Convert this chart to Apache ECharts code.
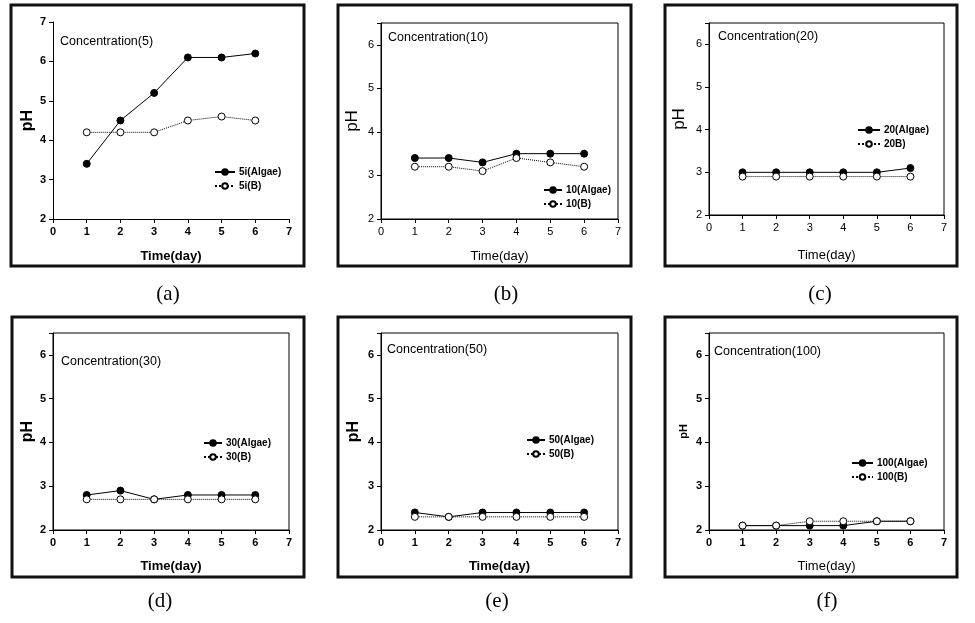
<!DOCTYPE html>
<html>
<head>
<meta charset="utf-8">
<script src="https://cdn.jsdelivr.net/npm/echarts@6/dist/echarts.min.js"></script>
<style>html,body{margin:0;padding:0;background:#fff}#c{width:975px;height:623px}</style>
</head>
<body>
<div id="c"></div>
<script>
// ---- data ----
var days = [1, 2, 3, 4, 5, 6];
var titles = ['Concentration(5)', 'Concentration(10)', 'Concentration(20)', 'Concentration(30)', 'Concentration(50)', 'Concentration(100)'];
var captions = ['(a)', '(b)', '(c)', '(d)', '(e)', '(f)'];
var algaeNames = ['5i(Algae)', '10(Algae)', '20(Algae)', '30(Algae)', '50(Algae)', '100(Algae)'];
var bNames = ['5i(B)', '10(B)', '20B)', '30(B)', '50(B)', '100(B)'];
var algae5 = [3.4, 4.5, 5.2, 6.1, 6.1, 6.2];
var b5 = [4.2, 4.2, 4.2, 4.5, 4.6, 4.5];
var algae10 = [3.4, 3.4, 3.3, 3.5, 3.5, 3.5];
var b10 = [3.2, 3.2, 3.1, 3.4, 3.3, 3.2];
var algae20 = [3.0, 3.0, 3.0, 3.0, 3.0, 3.1];
var b20 = [2.9, 2.9, 2.9, 2.9, 2.9, 2.9];
var algae30 = [2.8, 2.9, 2.7, 2.8, 2.8, 2.8];
var b30 = [2.7, 2.7, 2.7, 2.7, 2.7, 2.7];
var algae50 = [2.4, 2.3, 2.4, 2.4, 2.4, 2.4];
var b50 = [2.3, 2.3, 2.3, 2.3, 2.3, 2.3];
var algae100 = [2.1, 2.1, 2.1, 2.1, 2.2, 2.2];
var b100 = [2.1, 2.1, 2.2, 2.2, 2.2, 2.2];
var xName = 'Time(day)';
var yName = 'pH';
var xMin = 0, xMax = 7, yMin = 2;
var yMaxes = [7, 6.5, 6.5, 6.5, 6.5, 6.5];

var algaeSets = [algae5, algae10, algae20, algae30, algae50, algae100];
var bSets = [b5, b10, b20, b30, b50, b100];

// ---- layout ----
var FONT = '"Liberation Sans", Arial, sans-serif';
var layout = [
  {grid:[53,22,236,197], box:false, frame:[11,5,293,261], tl:[60,35], cap:[168,294], tickB:true, nameB:true, xGap:31, yGap:17, pH:16, pHB:true, leg:[214,166,20]},
  {grid:[381,23,237,196], box:true, frame:[338,5,293,261], tl:[388,31], cap:[506,294], tickB:false, nameB:false, xGap:31, yGap:20, pH:17, pHB:false, leg:[543,184,18]},
  {grid:[709,23,235,192], box:true, frame:[665,5,292,261], tl:[718,30], cap:[820,294], tickB:false, nameB:false, xGap:34, yGap:21, pH:17, pHB:false, leg:[857,124,22]},
  {grid:[53,333,236,197], box:true, frame:[12,317,292,260], tl:[61,355], cap:[160,601], tickB:true, nameB:true, xGap:30, yGap:17, pH:16, pHB:true, leg:[203,437,18]},
  {grid:[381,333,237,197], box:true, frame:[338,317,293,260], tl:[387,343], cap:[497,601], tickB:true, nameB:true, xGap:30, yGap:19, pH:16, pHB:true, leg:[526,434,18]},
  {grid:[709,333,235,197], box:true, frame:[665,317,292,260], tl:[714,345], cap:[827,601], tickB:true, nameB:false, xGap:30, yGap:20, pH:11, pHB:true, leg:[851,457,21]}
];

var grids = [], xAxes = [], yAxes = [], series = [], legends = [], titleArr = [], graphics = [];
layout.forEach(function (L, i) {
  grids.push({left:L.grid[0], top:L.grid[1], width:L.grid[2], height:L.grid[3], show:L.box, borderColor:'#000', borderWidth:1, backgroundColor:'transparent'});
  var tickLabel = {color:'#000', fontSize:11, fontFamily:FONT, fontWeight:L.tickB?'bold':'normal', margin:7};
  xAxes.push({type:'value', gridIndex:i, min:xMin, max:xMax, interval:1,
    name:xName, nameLocation:'middle', nameGap:L.xGap,
    nameTextStyle:{color:'#000', fontSize:13, fontFamily:FONT, fontWeight:L.nameB?'bold':'normal'},
    axisLine:{show:true, onZero:false, lineStyle:{color:'#000', width:1}},
    axisTick:{show:true, inside:false, length:4, lineStyle:{color:'#000'}},
    axisLabel:tickLabel, splitLine:{show:false}});
  yAxes.push({type:'value', gridIndex:i, min:yMin, max:yMaxes[i], interval:1,
    name:yName, nameLocation:'middle', nameGap:L.yGap, nameRotate:90,
    nameTextStyle:{color:'#000', fontSize:L.pH, fontFamily:FONT, fontWeight:L.pHB?'bold':'normal'},
    axisLine:{show:true, onZero:false, lineStyle:{color:'#000', width:1}},
    axisTick:{show:true, inside:false, length:4, lineStyle:{color:'#000'}},
    axisLabel:Object.assign({}, tickLabel, {formatter:function (v) { return Math.abs(v - Math.round(v)) < 1e-9 ? String(Math.round(v)) : ''; }}),
    splitLine:{show:false}});
  var aData = days.map(function (d, k) { return [d, algaeSets[i][k]]; });
  var bData = days.map(function (d, k) { return [d, bSets[i][k]]; });
  series.push({type:'line', name:algaeNames[i], xAxisIndex:i, yAxisIndex:i, data:aData,
    symbol:'circle', symbolSize:7, showAllSymbol:true,
    lineStyle:{color:'#000', width:1, type:'solid'},
    itemStyle:{color:'#000', borderColor:'#000', borderWidth:1}, z:2, animation:false});
  series.push({type:'line', name:bNames[i], xAxisIndex:i, yAxisIndex:i, data:bData,
    symbol:'circle', symbolSize:7, showAllSymbol:true,
    lineStyle:{color:'#000', width:1, type:'dotted'},
    itemStyle:{color:'#fff', borderColor:'#000', borderWidth:1}, z:3, animation:false});
  legends.push({data:[algaeNames[i], bNames[i]], orient:'vertical', left:L.leg[0], top:L.leg[1] + 1,
    itemWidth:L.leg[2], itemHeight:7, itemGap:4, padding:0, selectedMode:false,
    textStyle:{color:'#000', fontSize:10, fontWeight:'bold', fontFamily:FONT, padding:[0,0,0,-1]}});
  titleArr.push({text:titles[i], left:L.tl[0], top:L.tl[1], padding:0,
    textStyle:{color:'#000', fontSize:12.5, fontWeight:'normal', fontFamily:FONT}});
  graphics.push({type:'rect', shape:{x:L.frame[0], y:L.frame[1], width:L.frame[2], height:L.frame[3]},
    style:{fill:'none', stroke:'#111', lineWidth:3}, z:0, silent:true});
  graphics.push({type:'text', x:L.cap[0], y:L.cap[1],
    style:{text:captions[i], fill:'#000', font:'21px "Liberation Serif", "DejaVu Serif", serif', textAlign:'center', textVerticalAlign:'middle'}, silent:true});
});

var chart = echarts.init(document.getElementById('c'), null, {renderer:'canvas'});
chart.setOption({
  animation:false,
  backgroundColor:'#fff',
  title:titleArr,
  grid:grids,
  xAxis:xAxes,
  yAxis:yAxes,
  legend:legends,
  series:series,
  graphic:graphics
});
</script>
</body>
</html>
